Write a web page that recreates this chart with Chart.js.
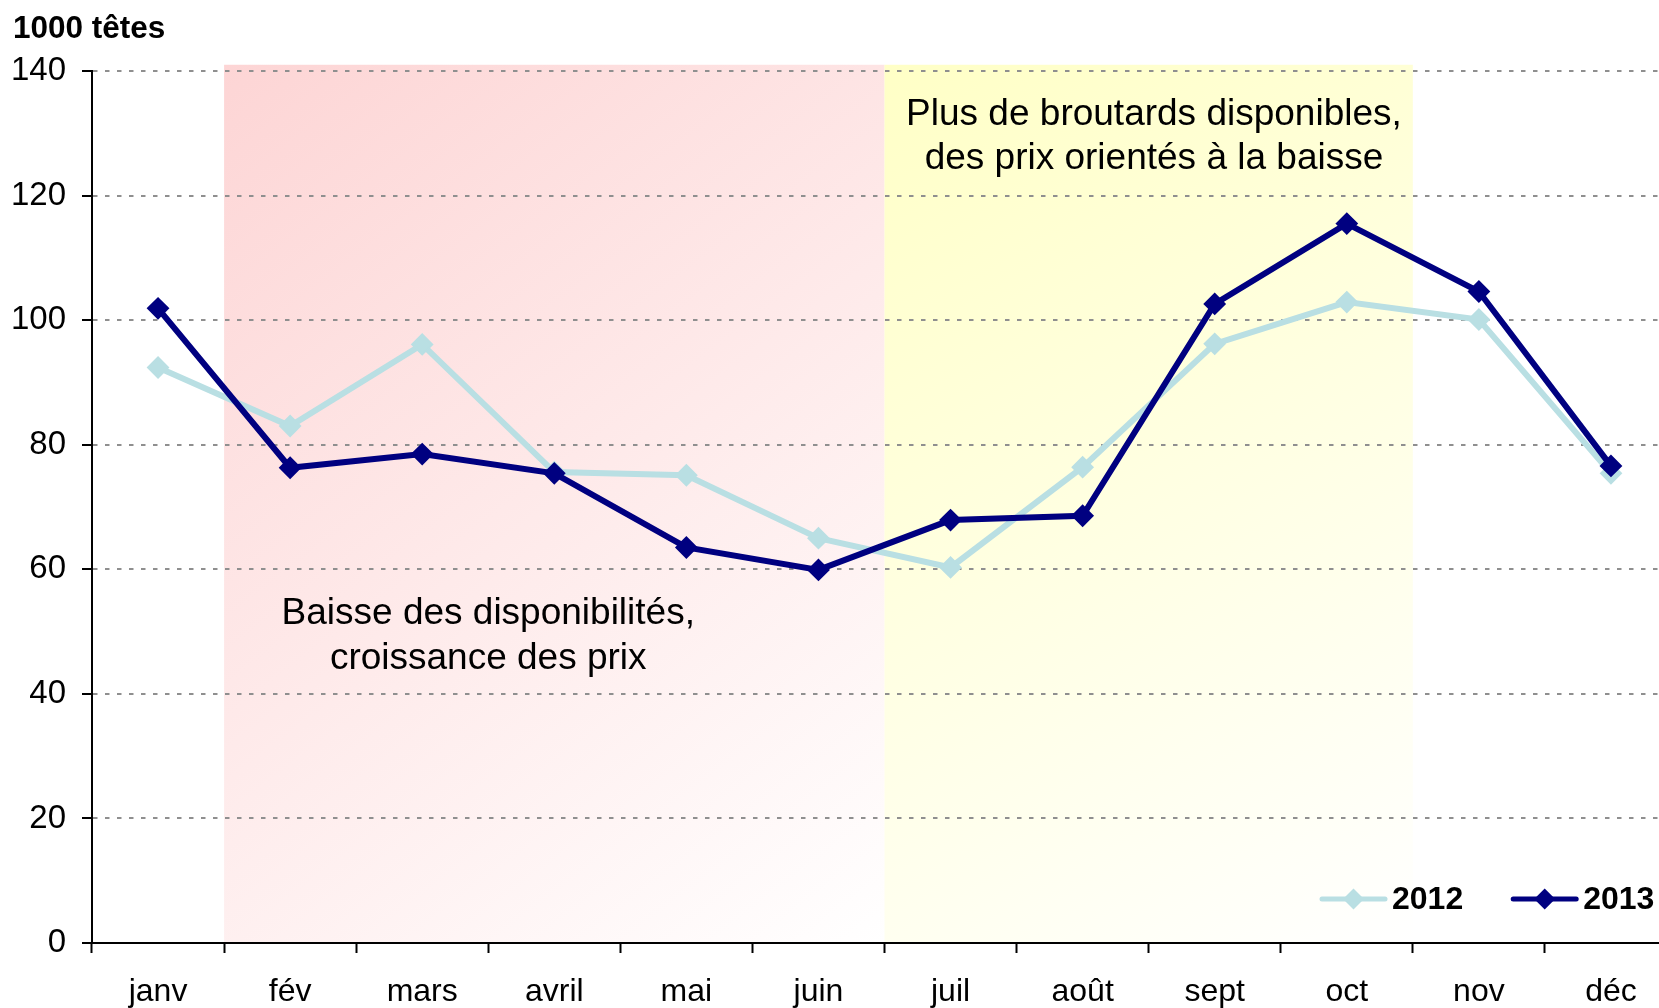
<!DOCTYPE html>
<html lang="fr">
<head>
<meta charset="utf-8">
<title>Broutards - 1000 têtes</title>
<script src="https://cdn.jsdelivr.net/npm/chart.js@4.4.1/dist/chart.umd.min.js"></script>
<style>
  html, body { margin: 0; padding: 0; background: #fff; overflow: hidden; }
  #wrap { width: 1690px; height: 1008px; }
</style>
</head>
<body>
<div id="wrap"><canvas id="chart" width="1690" height="1008"></canvas></div>
<script>
/* ---------- data ---------- */
const months = ['janv', 'fév', 'mars', 'avril', 'mai', 'juin', 'juil', 'août', 'sept', 'oct', 'nov', 'déc'];
const values2012 = [92.4, 83.0, 96.1, 75.6, 75.1, 65.0, 60.3, 76.4, 96.2, 102.9, 100.1, 75.4];
const values2013 = [101.9, 76.3, 78.5, 75.4, 63.5, 59.9, 67.9, 68.6, 102.6, 115.5, 104.6, 76.6];
const yTicks = [0, 20, 40, 60, 80, 100, 120, 140];
const unitLabel = '1000 têtes';

// shaded periods (first month, last month)
const zoneFirst = ['fév', 'juil'];
const zoneLast = ['juin', 'oct'];
const zoneTopValue = 141;

// comments inside the chart
const noteLines = [
  ['Baisse des disponibilités,', 'croissance des prix'],
  ['Plus de broutards disponibles,', 'des prix orientés à la baisse']
];
const noteX = [2.5, 7.54];    // category index (between two months)
const noteY = [51.2, 131.4];  // value at baseline of first line

/* ---------- styles ---------- */
const FONT = "'Liberation Sans', Arial, Helvetica, sans-serif";
const COLORS = {
  y2012: '#b9dfe3',
  y2013: '#000080',
  grid: '#8f8f8f',
  axis: '#000000',
  text: '#000000'
};
const ZONE_COLORS = [
  ['#fdd5d5', '#ffffff'],
  ['#ffffc6', '#ffffff']
];

// background zones, drawn under the grid
const zonesPlugin = {
  id: 'zones',
  beforeDraw(chart) {
    const { ctx, scales: { x, y } } = chart;
    ctx.save();
    zoneFirst.forEach((first, i) => {
      const x0 = x.getPixelForValue(months.indexOf(first) - 0.5);
      const x1 = x.getPixelForValue(months.indexOf(zoneLast[i]) + 0.5);
      const top = y.getPixelForValue(zoneTopValue);
      const bottom = y.getPixelForValue(0);
      const g = ctx.createLinearGradient(x0, top, x1, bottom);
      g.addColorStop(0, ZONE_COLORS[i][0]);
      g.addColorStop(1, ZONE_COLORS[i][1]);
      ctx.fillStyle = g;
      ctx.fillRect(x0, top, x1 - x0, bottom - top);
    });
    ctx.restore();
  }
};

// unit label, notes and legend
const textPlugin = {
  id: 'texts',
  afterDatasetsDraw(chart) {
    const { ctx, scales: { x, y } } = chart;
    ctx.save();
    ctx.fillStyle = COLORS.text;

    // unit label
    ctx.font = `bold 31.5px ${FONT}`;
    ctx.textAlign = 'left';
    ctx.textBaseline = 'alphabetic';
    ctx.fillText(unitLabel, 13, 38);

    // notes
    ctx.font = `37px ${FONT}`;
    ctx.textAlign = 'center';
    noteLines.forEach((lines, i) => {
      const px = x.getPixelForValue(noteX[i]);
      const py = y.getPixelForValue(noteY[i]);
      lines.forEach((line, j) => ctx.fillText(line, px, py + j * 44.5));
    });

    // legend
    ctx.font = `bold 32px ${FONT}`;
    ctx.textAlign = 'left';
    ctx.textBaseline = 'middle';
    let lx = 1322;
    const ly = 899;
    chart.data.datasets.forEach(ds => {
      ctx.strokeStyle = ds.borderColor;
      ctx.lineWidth = 5;
      ctx.lineCap = 'round';
      ctx.beginPath();
      ctx.moveTo(lx, ly);
      ctx.lineTo(lx + 63, ly);
      ctx.stroke();
      ctx.fillStyle = ds.borderColor;
      ctx.beginPath();
      ctx.moveTo(lx + 31.5, ly - 10.5);
      ctx.lineTo(lx + 42, ly);
      ctx.lineTo(lx + 31.5, ly + 10.5);
      ctx.lineTo(lx + 21, ly);
      ctx.closePath();
      ctx.fill();
      ctx.fillStyle = COLORS.text;
      ctx.fillText(ds.label, lx + 70, ly + 1);
      lx += 70 + ctx.measureText(ds.label).width + 50;
    });
    ctx.restore();
  }
};

function lineDataset(label, data, color, order) {
  return {
    label,
    data,
    order,
    borderColor: color,
    backgroundColor: color,
    borderWidth: 6,
    tension: 0,
    pointStyle: 'rectRot',
    pointRadius: 10,
    pointBorderWidth: 2,
    pointBackgroundColor: color,
    pointBorderColor: color
  };
}

new Chart(document.getElementById('chart'), {
  type: 'line',
  data: {
    labels: months,
    datasets: [
      lineDataset('2012', values2012, COLORS.y2012, 1),
      lineDataset('2013', values2013, COLORS.y2013, 0)
    ]
  },
  options: {
    responsive: false,
    animation: false,
    layout: { padding: { top: 71, right: 13, left: 0, bottom: 0 } },
    plugins: {
      legend: { display: false },
      tooltip: { enabled: false }
    },
    scales: {
      x: {
        offset: true,
        grid: {
          offset: true,
          drawOnChartArea: false,
          drawTicks: true,
          tickLength: 10,
          tickColor: COLORS.axis,
          tickWidth: 2
        },
        border: { display: true, color: COLORS.axis, width: 2 },
        ticks: {
          color: COLORS.text,
          font: { family: FONT, size: 32 },
          padding: 20,
          maxRotation: 0,
          autoSkip: false
        },
        afterFit(scale) { scale.height = 65; }
      },
      y: {
        min: 0,
        max: 140,
        afterBuildTicks(scale) { scale.ticks = yTicks.map(v => ({ value: v })); },
        grid: {
          color: ctx => ctx.tick && ctx.tick.value === 0 ? 'rgba(0,0,0,0)' : COLORS.grid,
          lineWidth: 2,
          drawTicks: true,
          tickLength: 10,
          tickColor: COLORS.axis,
          tickWidth: 2,
          tickBorderDash: []
        },
        border: { display: true, color: COLORS.axis, width: 2, dash: [4.5, 7.5] },
        ticks: {
          color: COLORS.text,
          font: { family: FONT, size: 33 },
          padding: 16
        },
        afterFit(scale) { scale.width = 92; }
      }
    }
  },
  plugins: [zonesPlugin, textPlugin]
});
</script>
</body>
</html>
